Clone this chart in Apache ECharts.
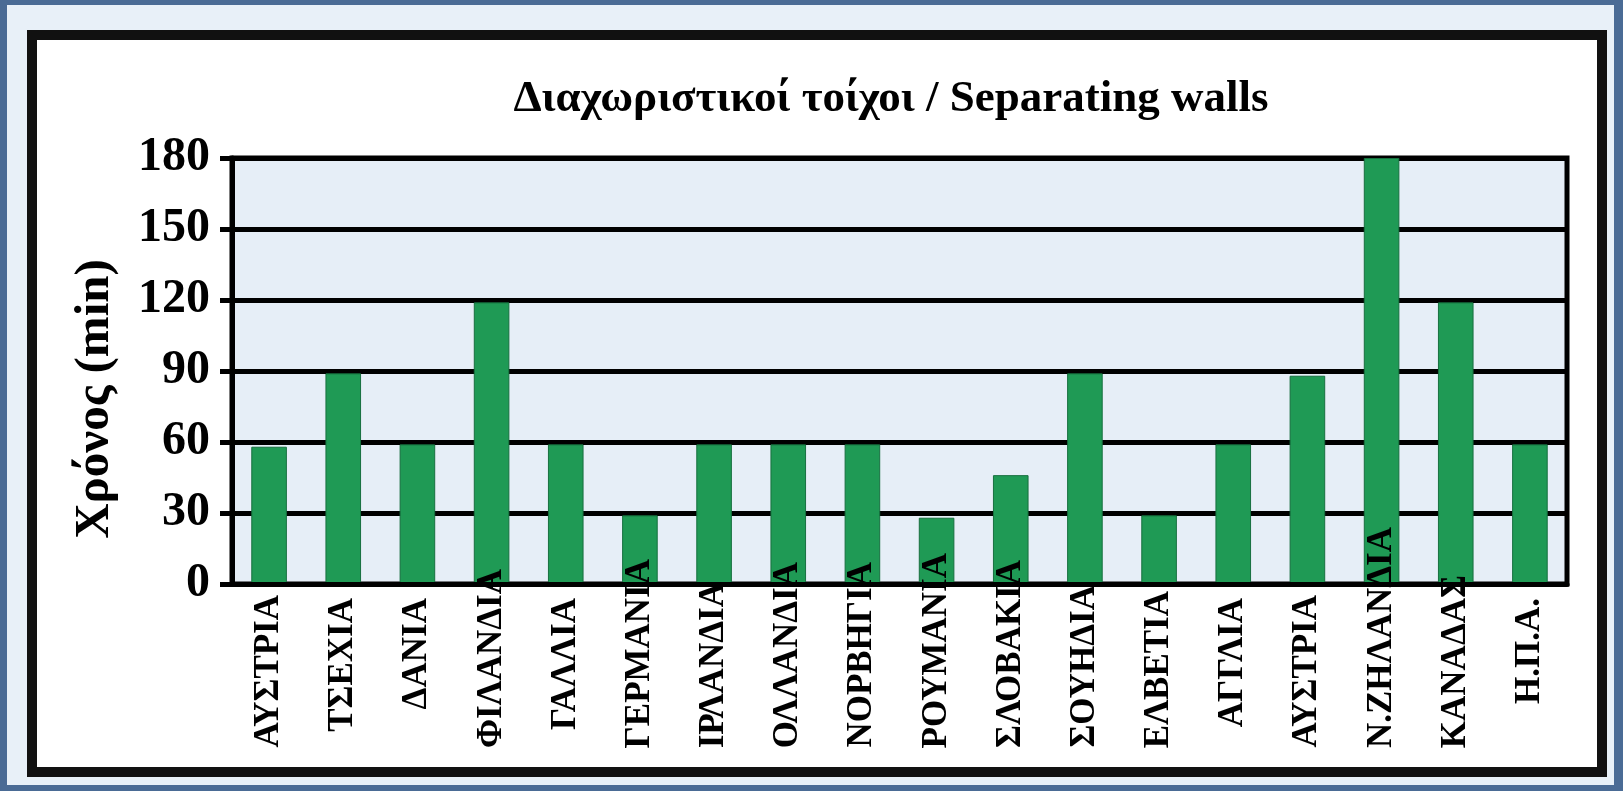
<!DOCTYPE html>
<html>
<head>
<meta charset="utf-8">
<title>Διαχωριστικοί τοίχοι</title>
<script src="https://cdn.jsdelivr.net/npm/echarts@6/dist/echarts.min.js"></script>
<style>
    html, body { margin: 0; padding: 0; background: #4a6b95; }
    #wallChart { width: 1623px; height: 791px; }
</style>
</head>
<body>
<div id="wallChart"></div>
<script>
//////////////////////////////
//          数据
/////////////////////////////
var chartTitle = 'Διαχωριστικοί τοίχοι / Separating walls';
var yAxisName = 'Χρόνος (min)';
var countries = ['ΑΥΣΤΡΙΑ', 'ΤΣΕΧΙΑ', 'ΔΑΝΙΑ', 'ΦΙΛΑΝΔΙΑ', 'ΓΑΛΛΙΑ', 'ΓΕΡΜΑΝΙΑ', 'ΙΡΛΑΝΔΙΑ', 'ΟΛΛΑΝΔΙΑ', 'ΝΟΡΒΗΓΙΑ',
    'ΡΟΥΜΑΝΙΑ', 'ΣΛΟΒΑΚΙΑ', 'ΣΟΥΗΔΙΑ', 'ΕΛΒΕΤΙΑ', 'ΑΓΓΛΙΑ', 'ΑΥΣΤΡΙΑ', 'Ν.ΖΗΛΑΝΔΙΑ', 'ΚΑΝΑΔΑΣ', 'Η.Π.Α.'];
var fireMinutes = [58, 89, 59, 119, 59, 29, 59, 59, 59, 28, 46, 89, 29, 59, 88, 180, 119, 59];
var yMin = 0;
var yMax = 180;
var yStep = 30;

//////////////////////////////
//          版面
/////////////////////////////
var labelFont = 'bold 35px "Liberation Serif"';
var labelTop = 14;      // 标签离轴的距离
var labelRoom = 164;    // 轴下可用的长度, 长的往上推

// 长标签往上移 (原图里长的名字伸进了绘图区)
var ctx = document.createElement('canvas').getContext('2d');
ctx.font = labelFont;
var shifts = countries.map(function(name) {
    var w = ctx.measureText(name).width;
    return Math.max(0, Math.round(labelTop + w - labelRoom));
});
var maxShift = Math.max.apply(null, shifts);
var xData = countries.map(function(name, i) {
    return {
        value: name,
        textStyle: {
            padding: [0, maxShift - shifts[i], 0, 0]
        }
    };
});

var myChart = echarts.init(document.getElementById('wallChart'));

var option = {
    backgroundColor: 'transparent',
    animation: false,
    graphic: [{
        type: 'rect',
        z: -20,
        shape: { x: 7, y: 5, width: 1607, height: 780 },
        style: { fill: '#e8f0f8' }
    }, {
        type: 'rect',
        z: -10,
        shape: { x: 32, y: 35, width: 1570, height: 737 },
        style: { fill: '#ffffff', stroke: '#111111', lineWidth: 10 }
    }],
    title: {
        text: chartTitle,
        left: 886,
        top: 72,
        textAlign: 'center',
        textStyle: {
            fontFamily: '"Liberation Serif"',
            fontWeight: 'bold',
            fontSize: 45,
            color: '#000000'
        }
    },
    grid: {
        left: 232,
        right: 56,
        top: 158,
        bottom: 207,
        show: true,
        backgroundColor: '#e6eef7',
        borderColor: '#000000',
        borderWidth: 5,
        outerBoundsMode: 'none'
    },
    xAxis: {
        type: 'category',
        data: xData,
        z: 10,
        axisTick: { show: false },
        axisLine: {
            show: true,
            lineStyle: { color: '#000000', width: 5 }
        },
        axisLabel: {
            interval: 0,
            rotate: 90,
            margin: labelTop - maxShift,
            fontFamily: '"Liberation Serif"',
            fontWeight: 'bold',
            fontSize: 35,
            color: '#000000'
        }
    },
    yAxis: {
        type: 'value',
        min: yMin,
        max: yMax,
        interval: yStep,
        name: yAxisName,
        nameLocation: 'middle',
        nameGap: 112,
        nameTextStyle: {
            fontFamily: '"Liberation Serif"',
            fontWeight: 'bold',
            fontSize: 49,
            color: '#000000',
            padding: [0, 56, 0, 0]
        },
        axisLine: {
            show: true,
            lineStyle: { color: '#000000', width: 5 }
        },
        axisTick: {
            show: true,
            length: 12,
            lineStyle: { color: '#000000', width: 5 }
        },
        axisLabel: {
            margin: 22,
            fontFamily: '"Liberation Serif"',
            fontWeight: 'bold',
            fontSize: 48,
            color: '#000000'
        },
        splitLine: {
            show: true,
            lineStyle: { color: '#000000', width: 5 }
        }
    },
    series: [{
        type: 'bar',
        data: fireMinutes,
        barWidth: '48%',
        itemStyle: {
            color: '#1f9a55',
            borderColor: '#17703f',
            borderWidth: 1
        }
    }]
};

myChart.setOption(option);
</script>
</body>
</html>
